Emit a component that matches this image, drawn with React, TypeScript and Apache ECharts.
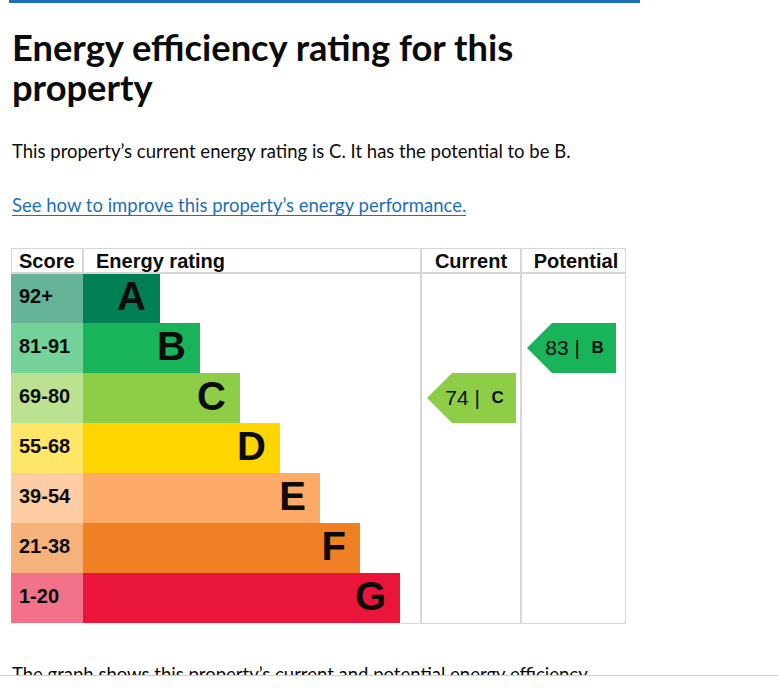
import React, { useEffect, useRef } from "react";
import * as echarts from "echarts";

// Energy bands, top (best) to bottom (worst)
const bands = ["A", "B", "C", "D", "E", "F", "G"];
const scoreRanges = ["92+", "81-91", "69-80", "55-68", "39-54", "21-38", "1-20"];
const bandMinScores = [92, 81, 69, 55, 39, 21, 1];
const bandColors = ["#008054", "#19b459", "#8dce46", "#ffd500", "#fcaa65", "#ef8023", "#e9153b"];
// Bar length of each band on the rating column's 0..338 scale
const barLengths = [77, 117, 157, 197, 237, 277, 317];
const ratingScaleMax = 338;

const currentScore = 74;
const potentialScore = 83;

const bandIndexFor = (score: number) => {
  for (let i = 0; i < bandMinScores.length; i++) if (score >= bandMinScores[i]) return i;
  return bandMinScores.length - 1;
};

// Lighter shade of a band colour for the score column (colour at 60% over white)
const tint = (hex: string, amount: number) => {
  const n = parseInt(hex.slice(1), 16);
  const ch = [(n >> 16) & 255, (n >> 8) & 255, n & 255].map((c) => Math.round(c * amount + 255 * (1 - amount)));
  return "#" + ch.map((c) => c.toString(16).padStart(2, "0")).join("");
};

const GDS = "Lato, 'Noto Sans', sans-serif";
const ARIAL = "'Liberation Sans', Arial, sans-serif";
const INK = "#0b0c0c";
const LINK = "#1d70b8";
const RULE = "#d6d6d6";

const TOP = 273;
const ROW_H = 50;
const PLOT_H = ROW_H * bands.length;

function arrowSeries(gridIndex: number, score: number) {
  const idx = bandIndexFor(score);
  return {
    type: "custom",
    xAxisIndex: gridIndex,
    yAxisIndex: gridIndex,
    data: [[0, idx, score]],
    encode: { x: 0, y: 1 },
    renderItem: (params: any, api: any) => {
      const s = api.value(2);
      const b = bandIndexFor(s);
      const cy = api.coord([0, b])[1];
      const h = api.size([0, 1])[1];
      const x0 = params.coordSys.x + 6;
      const x1 = x0 + 89;
      const tip = 25;
      const top = cy - h / 2;
      const bot = cy + h / 2;
      return {
        type: "group",
        children: [
          {
            type: "polygon",
            shape: { points: [[x0, cy], [x0 + tip, top], [x1, top], [x1, bot], [x0 + tip, bot]] },
            style: { fill: bandColors[b] },
          },
          {
            type: "text",
            x: (x0 + x1) / 2 + 3,
            y: cy - 1,
            style: {
              text: `{n|${s} |  }{l|${bands[b]}}`,
              align: "center",
              verticalAlign: "middle",
              rich: {
                n: { fontFamily: ARIAL, fontSize: 21, fill: INK, color: INK },
                l: { fontFamily: ARIAL, fontSize: 17, fontWeight: "bold", fill: INK, color: INK },
              },
            },
          },
        ],
      };
    },
  };
}

function textEl(text: string, x: number, y: number, size: number, weight: string, fill: string, family = GDS, align = "left") {
  return {
    type: "text",
    x,
    y,
    style: {
      text,
      fontSize: size,
      fontWeight: weight,
      fontFamily: family,
      fill,
      align,
      verticalAlign: "middle",
      textAlign: align,
      textVerticalAlign: "middle",
    },
  };
}

function lineEl(x1: number, y1: number, x2: number, y2: number, stroke: string, lineWidth: number) {
  return { type: "line", shape: { x1, y1, x2, y2 }, style: { stroke, lineWidth }, z: 20 };
}

export default function App() {
  const ref = useRef<HTMLDivElement>(null);

  useEffect(() => {
    if (!ref.current) return;
    const chart = echarts.init(ref.current, undefined, { renderer: "svg" });

    const catAxis = (gridIndex: number) => ({
      type: "category",
      gridIndex,
      data: bands,
      inverse: true,
      show: false,
    });

    chart.setOption({
      animation: false,
      backgroundColor: "#ffffff",
      grid: [
        { left: 11, top: TOP, width: 72, height: PLOT_H },
        { left: 83, top: TOP, width: ratingScaleMax, height: PLOT_H },
        { left: 421, top: TOP, width: 100, height: PLOT_H },
        { left: 521, top: TOP, width: 105, height: PLOT_H },
      ],
      xAxis: [
        { type: "value", gridIndex: 0, min: 0, max: 1, show: false },
        { type: "value", gridIndex: 1, min: 0, max: ratingScaleMax, show: false },
        { type: "value", gridIndex: 2, min: 0, max: 1, show: false },
        { type: "value", gridIndex: 3, min: 0, max: 1, show: false },
      ],
      yAxis: [catAxis(0), catAxis(1), catAxis(2), catAxis(3)],
      series: [
        {
          type: "bar",
          xAxisIndex: 0,
          yAxisIndex: 0,
          barWidth: "100%",
          data: bands.map((_, i) => ({ value: 1, itemStyle: { color: tint(bandColors[i], 0.6) } })),
          label: {
            show: true,
            position: "insideLeft",
            distance: 8,
            offset: [0, -2],
            formatter: (p: any) => scoreRanges[p.dataIndex],
            fontFamily: ARIAL,
            fontWeight: "bold",
            fontSize: 20,
            color: INK,
          },
        },
        {
          type: "bar",
          xAxisIndex: 1,
          yAxisIndex: 1,
          barWidth: "100%",
          data: barLengths.map((v, i) => ({ value: v, itemStyle: { color: bandColors[i] } })),
          label: {
            show: true,
            position: "insideRight",
            distance: 14,
            offset: [0, -2],
            formatter: (p: any) => bands[p.dataIndex],
            fontFamily: ARIAL,
            fontWeight: "bold",
            fontSize: 40,
            color: INK,
          },
        },
        arrowSeries(2, currentScore),
        arrowSeries(3, potentialScore),
      ],
      graphic: [
        { type: "rect", shape: { x: 9, y: 0, width: 631, height: 3 }, style: { fill: LINK } },
        textEl("Energy efficiency rating for this", 12, 47, 36.3, "bold", INK),
        textEl("property", 12, 87, 36.3, "bold", INK),
        textEl("This property\u2019s current energy rating is C. It has the potential to be B.", 12, 151, 18.5, "normal", INK),
        textEl("See how to improve this property\u2019s energy performance.", 12, 205, 18.5, "normal", LINK),
        lineEl(12, 215.5, 466, 215.5, LINK, 1),
        // table header
        textEl("Score", 19, 261, 20, "bold", INK, ARIAL),
        textEl("Energy rating", 96, 261, 20, "bold", INK, ARIAL),
        textEl("Current", 471, 261, 20, "bold", INK, ARIAL, "center"),
        textEl("Potential", 576, 261, 20, "bold", INK, ARIAL, "center"),
        // table rules
        lineEl(11, 248.5, 626, 248.5, RULE, 1),
        lineEl(11, 273, 626, 273, RULE, 2),
        lineEl(11.5, 248, 11.5, 273, RULE, 1),
        lineEl(83, 248, 83, 273, RULE, 2),
        lineEl(421, 248, 421, 623, RULE, 2),
        lineEl(521, 248, 521, 623, RULE, 2),
        lineEl(625.5, 248, 625.5, 623.5, RULE, 1),
        lineEl(401, 623.5, 626, 623.5, RULE, 1),
        // following paragraph, cut off at the fold
        textEl("The graph shows this property\u2019s current and potential energy efficiency.", 12, 674, 18.5, "normal", INK),
        { type: "rect", shape: { x: 0, y: 675, width: 778, height: 19 }, style: { fill: "#ffffff" }, z: 30 },
        { type: "line", shape: { x1: 0, y1: 675.5, x2: 778, y2: 675.5 }, style: { stroke: "#cfcfcf", lineWidth: 1 }, z: 31 },
      ],
    });

    return () => chart.dispose();
  }, []);

  return <div ref={ref} style={{ position: "fixed", left: 0, top: 0, width: 778, height: 694 }} />;
}
